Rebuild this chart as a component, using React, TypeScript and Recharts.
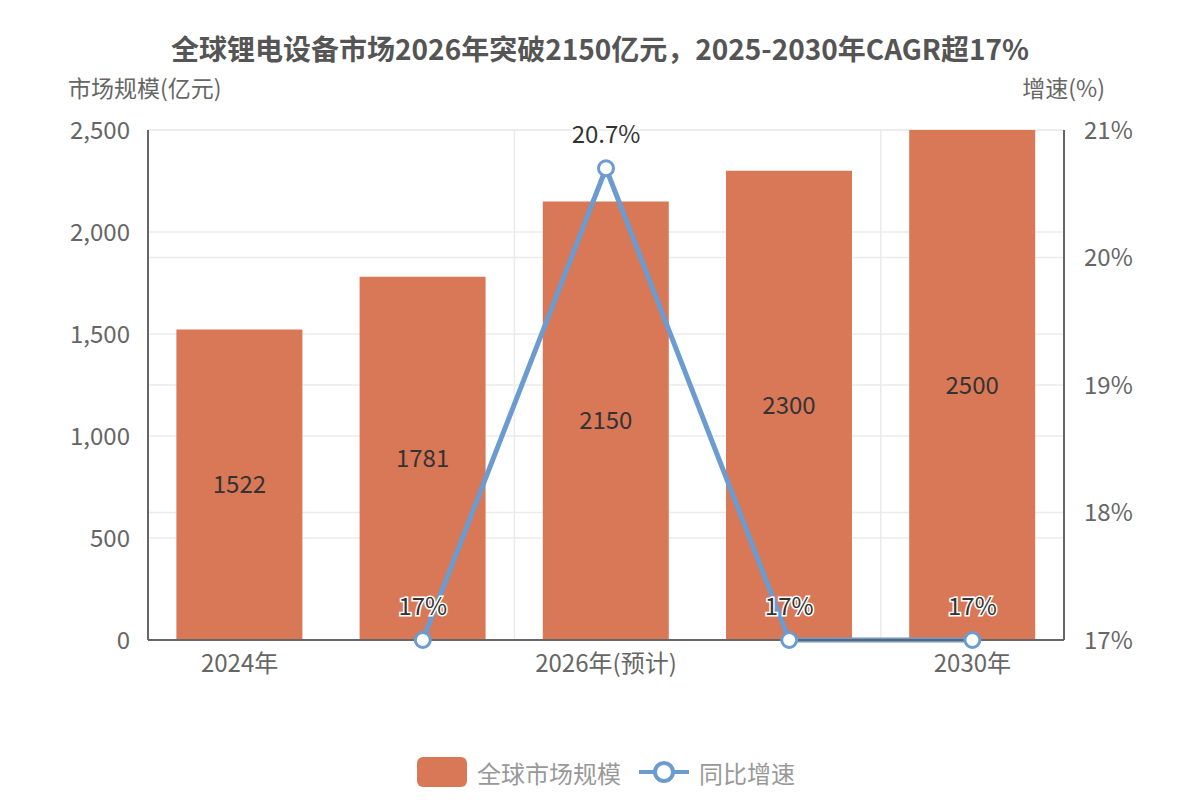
import React from 'react';
import {
  ComposedChart,
  Bar,
  Line,
  XAxis,
  YAxis,
  CartesianGrid,
  Legend,
  LabelList,
} from 'recharts';

const categories = ['2024年', '2025年', '2026年(预计)', '2027年(预计)', '2030年'];
const marketSize = [1522, 1781, 2150, 2300, 2500];
const growthRate: (number | null)[] = [null, 17, 20.7, 17, 17];
const leftTicks = [0, 500, 1000, 1500, 2000, 2500];
const rightTicks = [17, 18, 19, 20, 21];

const data = categories.map((name, i) => ({
  name,
  size: marketSize[i],
  growth: growthRate[i],
}));

const FONT = '"Noto Sans CJK SC", "Noto Sans", sans-serif';
const BAR_COLOR = '#d97857';
const LINE_COLOR = '#6b9bcf';

function HaloLabel(props: any) {
  const { x, y, value } = props;
  if (value === null || value === undefined) return null;
  return (
    <text
      x={x}
      y={y - 25}
      textAnchor="middle"
      fontSize={24}
      fontFamily={FONT}
      fill="#333"
      stroke="#fff"
      strokeWidth={3}
      paintOrder="stroke"
    >
      {value}%
    </text>
  );
}

function LegendContent() {
  return (
    <div
      style={{
        display: 'flex',
        justifyContent: 'center',
        alignItems: 'center',
        height: 40,
        fontFamily: FONT,
        fontSize: 24,
        color: '#999',
      }}
    >
      <span
        style={{
          width: 50,
          height: 30,
          borderRadius: 6,
          background: BAR_COLOR,
          display: 'inline-block',
          marginRight: 10,
        }}
      />
      <span style={{ marginRight: 18 }}>全球市场规模</span>
      <svg width={50} height={28} style={{ marginRight: 10 }}>
        <line x1={0} y1={14} x2={50} y2={14} stroke={LINE_COLOR} strokeWidth={4} />
        <circle cx={25} cy={14} r={9} fill="#fff" stroke={LINE_COLOR} strokeWidth={4} />
      </svg>
      <span>同比增速</span>
    </div>
  );
}

export default function App() {
  return (
    <div style={{ position: 'absolute', left: 0, top: 0, width: 1200, height: 800, background: '#fff' }}>
      <div
        style={{
          position: 'absolute',
          top: 28,
          left: 0,
          width: 1200,
          textAlign: 'center',
          fontFamily: FONT,
          fontWeight: 700,
          fontSize: 28,
          color: '#555',
        }}
      >
        全球锂电设备市场2026年突破2150亿元，2025-2030年CAGR超17%
      </div>
      <div style={{ position: 'absolute', top: 70, left: 68, fontFamily: FONT, fontSize: 23, color: '#666' }}>
        市场规模(亿元)
      </div>
      <div style={{ position: 'absolute', top: 70, right: 95, fontFamily: FONT, fontSize: 23, color: '#666' }}>
        增速(%)
      </div>
      <ComposedChart
        width={1200}
        height={800}
        data={data}
        margin={{ top: 130, right: 56, bottom: 8, left: 68 }}
        barCategoryGap="15.5%"
      >
        <CartesianGrid
          yAxisId="left"
          stroke="#ebebeb"
          strokeWidth={1.5}
          verticalCoordinatesGenerator={({ offset }: any) =>
            [2, 4].map((k) => offset.left + (offset.width * k) / categories.length)
          }
        />
        <CartesianGrid yAxisId="right" vertical={false} stroke="#ebebeb" strokeWidth={1.5} />
        <XAxis
          dataKey="name"
          interval={1}
          height={112}
          tickLine={false}
          axisLine={{ stroke: '#666', strokeWidth: 2 }}
          tick={{ fontSize: 24, fill: '#666', fontFamily: FONT }}
          tickMargin={9}
        />
        <YAxis
          yAxisId="left"
          domain={[0, 2500]}
          ticks={leftTicks}
          width={80}
          tickLine={false}
          axisLine={{ stroke: '#666', strokeWidth: 2 }}
          tick={{ fontSize: 24, fill: '#666', fontFamily: FONT }}
          tickFormatter={(v: number) => v.toLocaleString('en-US')}
          tickMargin={12}
        />
        <YAxis
          yAxisId="right"
          orientation="right"
          domain={[17, 21]}
          ticks={rightTicks}
          width={80}
          tickLine={false}
          axisLine={{ stroke: '#666', strokeWidth: 2 }}
          tick={{ fontSize: 24, fill: '#666', fontFamily: FONT }}
          tickFormatter={(v: number) => `${v}%`}
          tickMargin={14}
        />
        <Legend verticalAlign="bottom" content={<LegendContent />} />
        <Bar yAxisId="left" dataKey="size" fill={BAR_COLOR} isAnimationActive={false}>
          <LabelList
            dataKey="size"
            position="center"
            fill="#333"
            fontSize={24}
            fontFamily={FONT}
          />
        </Bar>
        <Line
          yAxisId="right"
          dataKey="growth"
          stroke={LINE_COLOR}
          strokeWidth={5}
          dot={{ r: 7.5, fill: '#fff', stroke: LINE_COLOR, strokeWidth: 3 }}
          isAnimationActive={false}
        >
          <LabelList dataKey="growth" content={<HaloLabel />} />
        </Line>
      </ComposedChart>
    </div>
  );
}
